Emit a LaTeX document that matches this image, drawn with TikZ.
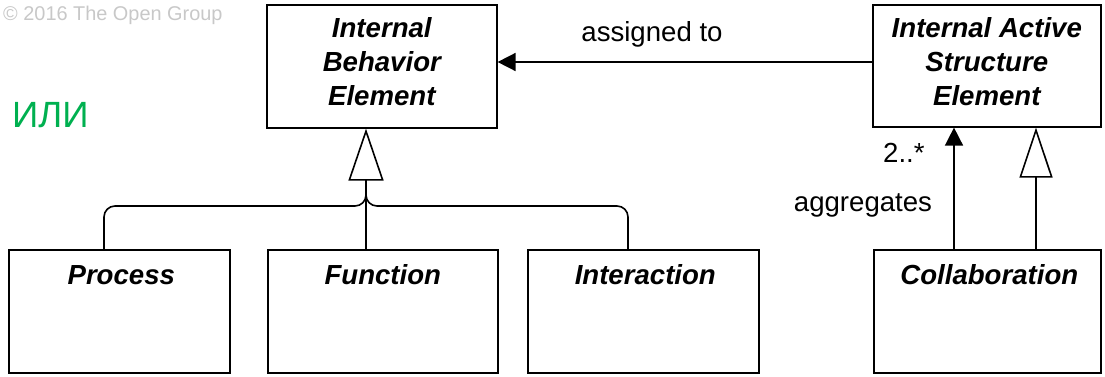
\documentclass[tikz,border=0pt]{standalone}
\usepackage{fontspec}
\setmainfont{Liberation Sans}
\usetikzlibrary{arrows.meta,calc}
\definecolor{orgreen}{RGB}{0,176,80}
\definecolor{copygray}{RGB}{200,200,200}
\tikzset{
  box/.style={draw, line width=1.6pt, rectangle, inner sep=0pt, anchor=north west},
  titletext/.style={font=\fontsize{27.6}{34}\selectfont\bfseries\itshape, align=center, inner sep=0pt},
  notetext/.style={font=\fontsize{27.6}{34}\selectfont, inner sep=0pt},
  conn/.style={line width=1.6pt},
  special/.style={-{Triangle[open,length=52pt,width=35pt,line width=1.6pt]}},
  assign/.style={-{Triangle[length=18pt,width=18pt]}},
}
\begin{document}
\begin{tikzpicture}[x=1pt,y=-1pt]
\useasboundingbox (0,0) rectangle (1105,376);

% copyright and the alternative marker
\node[anchor=base west, inner sep=0pt, text=copygray, font=\fontsize{19.9}{24}\selectfont] (copy) at (3,20) {© 2016 The Open Group};
\node[anchor=base west, inner sep=0pt, text=orgreen, font=\fontsize{36.5}{40}\selectfont] (ili) at (12,127) {ИЛИ};

% element boxes
\node[box, minimum width=230pt, minimum height=123pt] (ibe) at (266,4) {};
\node[box, minimum width=228pt, minimum height=122pt] (iase) at (872,4) {};
\node[box, minimum width=221pt, minimum height=123pt] (proc) at (8,249) {};
\node[box, minimum width=230pt, minimum height=123pt] (func) at (267,249) {};
\node[box, minimum width=231pt, minimum height=123pt] (inter) at (527,249) {};
\node[box, minimum width=227pt, minimum height=123pt] (collab) at (873,249) {};

% box titles
\node[titletext] (ibe-t) at (ibe.center |- 0,62) {Internal\\Behavior\\Element};
\node[titletext] (iase-t) at (iase.center |- 0,62) {Internal Active\\Structure\\Element};
\node[titletext, anchor=base] (proc-t) at ($(proc.north)+(2,35)$) {Process};
\node[titletext, anchor=base] (func-t) at ($(func.north)+(0,35)$) {Function};
\node[titletext, anchor=base] (inter-t) at ($(inter.north)+(2,35)$) {Interaction};
\node[titletext, anchor=base] (collab-t) at ($(collab.north)+(2,35)$) {Collaboration};

% attachment points
\coordinate (hub) at (366,179);
\coordinate (pj) at (proc.north -| 104,0);
\coordinate (fj) at (func.north -| hub);
\coordinate (ij) at (inter.north -| 628,0);
\coordinate (agg-s) at (collab.north -| 954,0);
\coordinate (spec-s) at (collab.north -| 1036,0);

% specialization of the behaviour elements
\draw[conn, rounded corners=11pt] (pj) |- (hub |- 0,206) -- (hub);
\draw[conn, rounded corners=11pt] (ij) |- (hub |- 0,206) -- (hub);
\draw[conn] (fj) -- (hub);
\draw[conn, special] (hub) -- (ibe.south -| hub);

% assignment
\draw[conn, assign] (iase.west |- 0,62) -- (ibe.east |- 0,62);
\node[notetext, anchor=base] (assign-l) at (652,41) {assigned to};

% aggregation and specialization of the collaboration
\draw[conn, assign] (agg-s) -- (iase.south -| agg-s);
\draw[conn, -{Triangle[open,length=50pt,width=33pt,line width=1.6pt]}] (spec-s) -- (iase.south -| spec-s);
\node[notetext, anchor=base west] (mult) at (883,162) {2..*};
\node[notetext, anchor=base] (agg-l) at (863,211) {aggregates};
\end{tikzpicture}
\end{document}
